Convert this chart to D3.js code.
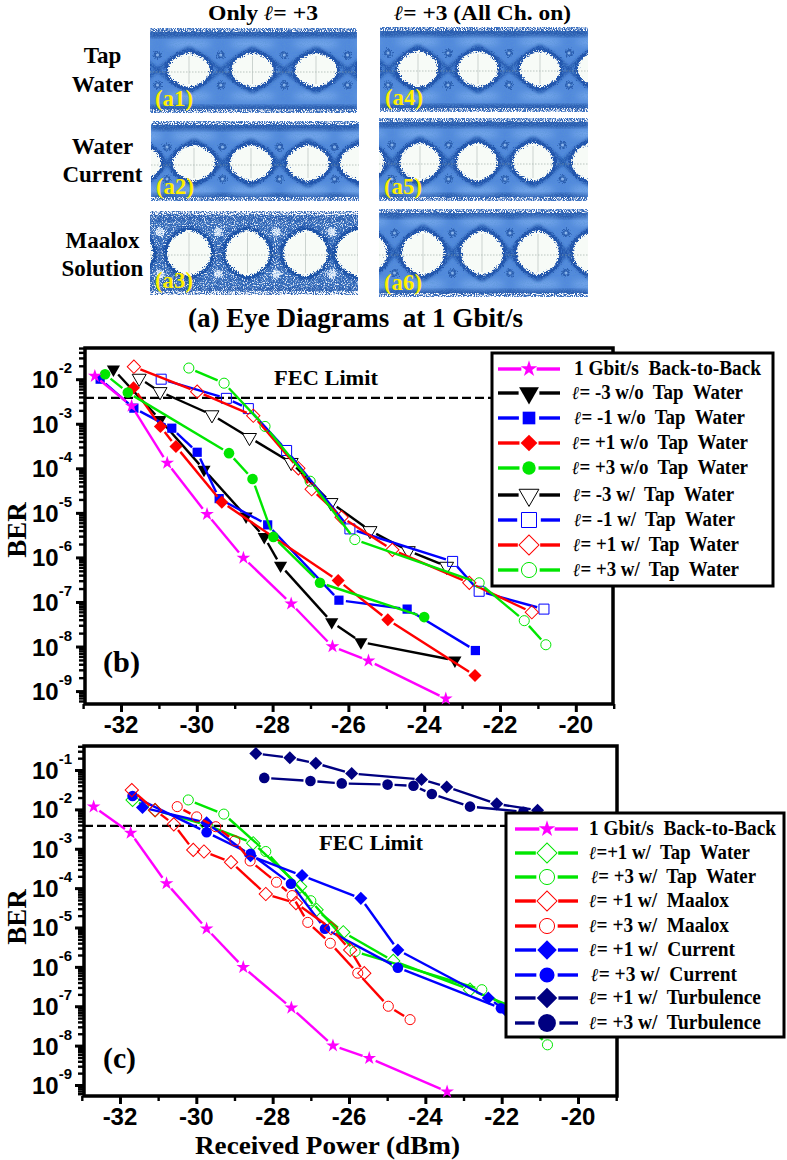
<!DOCTYPE html>
<html><head><meta charset="utf-8">
<script src="https://cdn.jsdelivr.net/npm/d3@7"></script>
<style>html,body{margin:0;background:#fff}svg{display:block}
text{font-family:"Liberation Serif",serif;font-weight:bold;fill:#000}
.sans{font-family:"Liberation Sans",sans-serif}</style></head><body>
<script>
// ---------- Data: received power (dBm) and log10(BER) ----------
const btbX=[-32.69,-31.72,-30.78,-29.73,-28.77,-27.51,-26.42,-25.47,-23.43];
const btbY=[-1.93,-2.60,-3.88,-5.03,-6.01,-7.04,-8.00,-8.32,-9.17];
// panel (b)
const m3noX=[-32.20,-30.97,-29.81,-28.70,-28.22,-27.79,-26.44,-25.67,-23.19];
const m3noY=[-1.78,-2.91,-4.03,-5.08,-5.54,-6.18,-7.45,-7.90,-8.31];
const m1noX=[-32.55,-31.66,-30.66,-29.99,-29.41,-28.13,-26.25,-24.45,-22.65];
const m1noY=[-2.00,-2.65,-3.10,-3.64,-4.68,-5.27,-6.96,-7.16,-8.09];
const p1noX=[-31.67,-30.96,-30.55,-29.34,-26.27,-24.96,-22.66];
const p1noY=[-2.19,-3.06,-3.51,-4.76,-6.52,-7.40,-8.65];
const p3noX=[-32.42,-31.82,-29.15,-28.53,-27.98,-26.75,-24.00];
const p3noY=[-1.89,-2.30,-3.66,-4.24,-5.54,-6.57,-7.34];
const m3tapX=[-31.52,-30.97,-29.60,-28.61,-27.51,-26.46,-25.43,-24.42,-23.41];
const m3tapY=[-1.98,-2.28,-2.80,-3.31,-3.87,-4.77,-5.40,-5.85,-6.20];
const m1tapX=[-30.94,-29.22,-28.64,-27.63,-25.96,-23.25,-22.55,-20.84];
const m1tapY=[-2.00,-2.43,-2.66,-3.60,-5.36,-6.09,-6.76,-7.16];
const p1tapX=[-31.66,-29.99,-28.51,-27.32,-26.97,-26.18,-24.84,-22.81,-21.16];
const p1tapY=[-1.72,-2.28,-2.82,-4.00,-4.47,-5.10,-5.83,-6.57,-7.23];
const p3tapX=[-30.21,-29.28,-28.20,-27.01,-25.83,-22.55,-21.36,-20.79];
const p3tapY=[-1.75,-2.09,-3.06,-4.29,-5.60,-6.57,-7.42,-7.96];
// panel (c)
const cP1tapX=[-31.67,-31.08,-29.73,-28.51,-27.28,-26.85,-26.15,-24.84,-22.83,-21.16];
const cP1tapY=[-1.76,-2.02,-2.40,-2.86,-3.96,-4.55,-5.12,-5.85,-6.58,-7.23];
const cP3tapX=[-30.21,-29.28,-28.18,-27.00,-25.84,-22.52,-21.36,-20.80];
const cP3tapY=[-1.76,-2.12,-3.07,-4.32,-5.61,-6.58,-7.42,-7.98];
const p1maaX=[-31.69,-31.08,-30.59,-30.08,-29.80,-29.09,-28.18,-27.39,-26.47,-25.97,-25.60];
const p1maaY=[-1.51,-2.02,-2.38,-3.03,-3.07,-3.34,-4.15,-4.38,-5.02,-5.57,-6.16];
const p3maaX=[-30.50,-29.99,-29.49,-28.99,-28.59,-27.90,-27.49,-27.08,-26.49,-25.77,-24.97,-24.40];
const p3maaY=[-1.93,-2.19,-2.44,-2.80,-3.31,-3.85,-4.19,-4.87,-5.40,-6.16,-7.00,-7.34];
const p1curX=[-31.41,-29.73,-28.58,-27.23,-25.69,-24.72,-22.35,-21.87];
const p1curY=[-1.95,-2.34,-3.18,-3.68,-4.26,-5.57,-6.79,-7.13];
const p3curX=[-31.67,-29.73,-28.58,-27.52,-26.63,-24.72,-22.02];
const p3curY=[-1.66,-2.58,-3.13,-3.89,-5.03,-6.02,-7.05];
const p1turX=[-28.44,-27.55,-26.87,-25.93,-24.10,-23.44,-22.13,-21.06];
const p1turY=[-0.58,-0.69,-0.83,-1.09,-1.24,-1.43,-1.86,-2.02];
const p3turX=[-28.22,-27.01,-26.19,-24.99,-24.31,-23.83,-22.83,-21.43];
const p3turY=[-1.20,-1.28,-1.34,-1.37,-1.40,-1.61,-1.93,-2.06];
const fecLog=-2.42;
const xMajor=[-32,-30,-28,-26,-24,-22,-20];
const xMinor=[-33,-31,-29,-27,-25,-23,-21,-19];
const decadesB=[-2,-3,-4,-5,-6,-7,-8,-9];
const decadesC=[-1,-2,-3,-4,-5,-6,-7,-8,-9];
const legendB=["1 Gbit/s  Back-to-Back","ℓ= -3 w/o  Tap  Water","ℓ= -1 w/o  Tap  Water","ℓ= +1 w/o  Tap  Water","ℓ= +3 w/o  Tap  Water","ℓ= -3 w/  Tap  Water","ℓ= -1 w/  Tap  Water","ℓ= +1 w/  Tap  Water","ℓ= +3 w/  Tap  Water"];
const legendC=["1 Gbit/s  Back-to-Back","ℓ=+1 w/  Tap  Water","ℓ= +3 w/  Tap  Water","ℓ= +1 w/  Maalox","ℓ= +3 w/  Maalox","ℓ= +1 w/  Current","ℓ= +3 w/  Current","ℓ= +1 w/  Turbulence","ℓ= +3 w/  Turbulence"];

const MAG="#ff00ff",BLK="#000",BLU="#0000ff",RED="#ff0000",GRN="#00e600",NAV="#000080";
const S=(name,xs,ys,color,shape,open,lk)=>({name,xs,ys,color,shape,open,lk});
const seriesB=[
 S(legendB[1],m3noX,m3noY,BLK,"tri",false,170),S(legendB[2],m1noX,m1noY,BLU,"sq",false,160),
 S(legendB[3],p1noX,p1noY,RED,"dia",false,140),S(legendB[4],p3noX,p3noY,GRN,"cir",false,140),
 S(legendB[5],m3tapX,m3tapY,BLK,"tri",true,170),S(legendB[6],m1tapX,m1tapY,BLU,"sq",true,225),
 S(legendB[7],p1tapX,p1tapY,RED,"dia",true,200),S(legendB[8],p3tapX,p3tapY,GRN,"cir",true,180),
 S(legendB[0],btbX,btbY,MAG,"star",false,85)];
const seriesC=[
 S(legendC[1],cP1tapX,cP1tapY,GRN,"dia",true,200),S(legendC[2],cP3tapX,cP3tapY,GRN,"cir",true,180),
 S(legendC[5],p1curX,p1curY,BLU,"dia",false,190),S(legendC[6],p3curX,p3curY,BLU,"cir",false,180),
 S(legendC[3],p1maaX,p1maaY,RED,"dia",true,200),S(legendC[4],p3maaX,p3maaY,RED,"cir",true,180),
 S(legendC[7],p1turX,p1turY,NAV,"dia",false,210),S(legendC[8],p3turX,p3turY,NAV,"cir",false,250),
 S(legendC[0],btbX,btbY,MAG,"star",false,85)];

// ---------- Helpers ----------
const svg=d3.select("body").append("svg").attr("width",787).attr("height",1160);
function label(x,y,str,size,width,anchor){
 const t=svg.append("text").attr("x",x).attr("y",y).attr("font-size",size).attr("text-anchor",anchor||"start").style("white-space","pre");
 str.split(/(ℓ)/).filter(s=>s).forEach(part=>{
  const ts=t.append("tspan").text(part);
  if(part==="ℓ")ts.style("font-family","'DejaVu Serif'").style("font-style","italic").attr("font-size",size*0.92);
 });
 if(width)t.attr("textLength",width).attr("lengthAdjust","spacingAndGlyphs");
 return t;
}
function symbolPath(shape,area){
 const type={tri:d3.symbolTriangle,sq:d3.symbolSquare,dia:d3.symbolSquare,cir:d3.symbolCircle,star:d3.symbolStar}[shape];
 return d3.symbol().type(type).size(area)();
}
const rot={tri:180,dia:45};
const plotArea={tri:[75,85],sq:[85,100],dia:[85,88],cir:[88,80],star:[58,58]};
function marker(g,shape,open,color,px,py,area){
 g.append("path").attr("d",symbolPath(shape,area||plotArea[shape][open?1:0]))
  .attr("transform",`translate(${px},${py}) rotate(${rot[shape]||0})`)
  .attr("fill",open?"#fff":color).attr("fill-opacity",open?0:1)
  .attr("stroke",open?color:"none").attr("stroke-width",open?1:0);
}
function chart(cfg){
 const x=d3.scaleLinear().domain([-33,-19]).range(cfg.xr);
 const y=d3.scaleLog().domain([Math.pow(10,cfg.yd[0]),Math.pow(10,cfg.yd[1])]).range(cfg.yr);
 const g=svg.append("g");
 const bottom=cfg.yr[0],left=cfg.frame[0];
 const ax=(axis)=>axis.tickFormat("").tickSizeOuter(0);
 const xa1=g.append("g").attr("transform",`translate(0,${bottom})`).call(ax(d3.axisBottom(x).tickValues(xMajor).tickSize(8)));
 const xa2=g.append("g").attr("transform",`translate(0,${bottom})`).call(ax(d3.axisBottom(x).tickValues(xMinor).tickSize(5)));
 const minor=[];cfg.decades.concat([cfg.decades[cfg.decades.length-1]-1]).forEach(d=>{for(let k=2;k<=9;k++){const v=k*Math.pow(10,d);if(v>y.domain()[0]&&v<y.domain()[1])minor.push(v);}});
 const ya1=g.append("g").attr("transform",`translate(${left},0)`).call(ax(d3.axisLeft(y).tickValues(cfg.decades.map(d=>Math.pow(10,d))).tickSize(9)));
 const ya2=g.append("g").attr("transform",`translate(${left},0)`).call(ax(d3.axisLeft(y).tickValues(minor).tickSize(6)));
 [xa1,xa2,ya1,ya2].forEach(a=>{a.select(".domain").remove();a.selectAll("line").attr("stroke","#000").attr("stroke-width",3);});
 [xa2,ya2].forEach(a=>a.selectAll("line").attr("stroke-width",2.4));
 g.append("rect").attr("x",left).attr("y",cfg.yr[1]).attr("width",cfg.frame[1]-left).attr("height",bottom-cfg.yr[1]).attr("fill","none").attr("stroke","#000").attr("stroke-width",3.5);
 g.append("line").attr("x1",left).attr("x2",cfg.fecEnd).attr("y1",y(Math.pow(10,fecLog))).attr("y2",y(Math.pow(10,fecLog))).attr("stroke","#000").attr("stroke-width",2.4).attr("stroke-dasharray","9 4");
 cfg.series.forEach(s=>{
  const pts=s.xs.map((v,i)=>[x(v),y(Math.pow(10,s.ys[i]))]);
  const gap=7;
  const sg=g.append("g");
  for(let i=0;i<pts.length-1;i++){
   const [a,b]=[pts[i],pts[i+1]];const d=Math.hypot(b[0]-a[0],b[1]-a[1]);
   if(d<=2*gap)continue;
   const ux=(b[0]-a[0])/d,uy=(b[1]-a[1])/d;
   sg.append("line").attr("x1",a[0]+ux*gap).attr("y1",a[1]+uy*gap).attr("x2",b[0]-ux*gap).attr("y2",b[1]-uy*gap)
    .attr("stroke",s.color).attr("stroke-width",2.4);
  }
  pts.forEach(p=>marker(sg,s.shape,s.open,s.color,p[0],p[1]));
 });
 xMajor.forEach(v=>svg.append("text").attr("class","sans").attr("x",x(v)).attr("y",bottom+cfg.xlabDy).attr("font-size",24).attr("text-anchor","middle").text(v));
 cfg.decades.forEach(d=>{
  const t=svg.append("text").attr("class","sans").attr("x",72).attr("y",y(Math.pow(10,d))+9).attr("font-size",24).attr("text-anchor","end");
  t.append("tspan").text("10");
  t.append("tspan").attr("font-size",15).attr("dy",-15).text(d);
 });
 svg.append("text").attr("transform",`translate(${cfg.berX},${cfg.berY}) rotate(-90)`).attr("font-size",27).attr("text-anchor","middle").text("BER");
 const L=cfg.legend;
 g.append("rect").attr("x",L.x0).attr("y",L.y0).attr("width",L.x1-L.x0).attr("height",L.y1-L.y0).attr("fill","#fff").attr("stroke","#000").attr("stroke-width",3);
 cfg.legendOrder.forEach((name,i)=>{
  const s=cfg.series.find(q=>q.name===name),yy=L.rows[i];
  const gp=Math.sqrt(s.lk)*0.72+1;
  g.append("line").attr("x1",L.lx0).attr("x2",L.mx-gp).attr("y1",yy).attr("y2",yy).attr("stroke",s.color).attr("stroke-width",3.4);
  g.append("line").attr("x1",L.mx+gp).attr("x2",L.lx1).attr("y1",yy).attr("y2",yy).attr("stroke",s.color).attr("stroke-width",3.4);
  marker(g,s.shape,s.open,s.color,L.mx,yy,s.lk);
  label(L.tx[i][0],yy+6,name,20,L.tx[i][1]-L.tx[i][0]);
 });
}

// ---------- Eye-diagram panels (a) ----------
const panels=[
 {id:"(a1)",x:150,y:28,w:207,h:85,eyes:[[126,70],[189,70],[252.5,70],[316,70],[379,70]],rx:21,ry:17},
 {id:"(a2)",x:151,y:121,w:208,h:80,eyes:[[140,163],[194,163],[251,163],[308,163],[361,163]],rx:21,ry:18},
 {id:"(a3)",x:150,y:211,w:208,h:84,eyes:[[131,253],[189,253],[247.5,253],[305.5,253],[358,253]],rx:22,ry:23,noisy:true},
 {id:"(a4)",x:380,y:27,w:208,h:85,eyes:[[358,69],[418,69],[478,69],[540,69],[598,69]],rx:20,ry:18},
 {id:"(a5)",x:379,y:118,w:209,h:83,eyes:[[364,162],[420,162],[477,162],[533,162],[592,162]],rx:20,ry:19},
 {id:"(a6)",x:379,y:209,w:209,h:88,eyes:[[366,253],[423,253],[482,253],[538,253],[594,253]],rx:21,ry:22}];
const rowLabels=[["Tap",102.5,63],["Water",102.5,92],["Water",102.5,154],["Current",102.5,182],["Maalox",102.5,248],["Solution",102.5,276]];
const defs=svg.append("defs");
const rough=defs.append("filter").attr("id","rough").attr("x","-15%").attr("y","-15%").attr("width","130%").attr("height","130%");
rough.append("feTurbulence").attr("type","fractalNoise").attr("baseFrequency",0.8).attr("numOctaves",2).attr("seed",4).attr("result","n");
rough.append("feDisplacementMap").attr("in","SourceGraphic").attr("in2","n").attr("scale",7).attr("xChannelSelector","R").attr("yChannelSelector","G");
const soft=defs.append("filter").attr("id","soft");soft.append("feGaussianBlur").attr("stdDeviation",1.4);
const soft2=defs.append("filter").attr("id","soft2").attr("x","-30%").attr("y","-60%").attr("width","160%").attr("height","220%");soft2.append("feGaussianBlur").attr("stdDeviation",3.5);
function speckle(id,r,g,b,gain,cut,seed){
 const f=defs.append("filter").attr("id",id).attr("x",0).attr("y",0).attr("width","100%").attr("height","100%");
 f.append("feTurbulence").attr("type","fractalNoise").attr("baseFrequency",0.9).attr("numOctaves",1).attr("seed",seed);
 f.append("feColorMatrix").attr("values",`0 0 0 0 ${r}  0 0 0 0 ${g}  0 0 0 0 ${b}  ${gain} 0 0 0 ${cut}`);
}
speckle("speckW",1,1,1,6,-3.1,9);
speckle("speckWrail",1,1,1,7,-3.2,3);
speckle("speckD",0.1,0.3,0.65,6,-2.8,21);
const rect=(g,x,y,w,h,fill)=>g.append("rect").attr("x",x).attr("y",y).attr("width",w).attr("height",h).attr("fill",fill||"#000");
panels.forEach((p,i)=>{
 defs.append("clipPath").attr("id","c"+i).append("rect").attr("x",p.x).attr("y",p.y).attr("width",p.w).attr("height",p.h);
 const g=svg.append("g").attr("clip-path",`url(#c${i})`);
 rect(g,p.x,p.y,p.w,p.h,p.noisy?"#2f64b6":"#5189dc");
 const eyeD=(c,grow)=>{
  const pts=d3.range(0,360,8).map(a=>{const t=a*Math.PI/180,ct=Math.cos(t),st=Math.sin(t);
   return [c[0]+(p.rx+grow)*Math.sign(ct)*Math.pow(Math.abs(ct),1.45),c[1]+(p.ry+grow)*Math.sign(st)*Math.pow(Math.abs(st),0.9)];});
  return d3.line()(pts)+"Z";};
 // outer rails
 rect(g,p.x,p.y,p.w,10,"#2a5db0").attr("filter","url(#soft)");
 rect(g,p.x,p.y+p.h-8,p.w,8,"#2a5db0").attr("filter","url(#soft)");
 // light haze arcs above/below the eyes
 if(!p.noisy)p.eyes.forEach(c=>{
  g.append("ellipse").attr("cx",c[0]).attr("cy",c[1]-p.ry-9).attr("rx",p.rx+2).attr("ry",3.5).attr("fill","#80b0f0").attr("filter","url(#soft2)");
  g.append("ellipse").attr("cx",c[0]).attr("cy",c[1]+p.ry+9).attr("rx",p.rx+2).attr("ry",3.5).attr("fill","#80b0f0").attr("filter","url(#soft2)");
 });
 // crossing traces between neighbouring eyes
 const trace=d3.line().curve(d3.curveBasis);
 p.eyes.slice(0,-1).forEach((c,k)=>{
  const n=p.eyes[k+1],mx=(c[0]+n[0])/2;
  [[-1,1],[1,-1]].forEach(([s0,s1])=>{
   g.append("path").attr("d",trace([[c[0],c[1]+s0*(p.ry+5)],[c[0]+p.rx*0.7,c[1]+s0*(p.ry*0.8)],[mx,c[1]],[n[0]-p.rx*0.7,c[1]+s1*(p.ry*0.8)],[n[0],c[1]+s1*(p.ry+5)]]))
    .attr("fill","none").attr("stroke","#2357ad").attr("stroke-width",p.noisy?5:4).attr("filter","url(#soft)");
  });
 });
 // small pockets at the trace crossings
 p.eyes.slice(0,-1).forEach((c,k)=>{
  const mx=(c[0]+p.eyes[k+1][0])/2;
  [-1,1].forEach(sgn=>{
   const yy=c[1]+sgn*(p.ry-2);
   g.append("circle").attr("cx",mx).attr("cy",yy).attr("r",p.noisy?4.5:4).attr("fill",p.noisy?"#dfeaf8":"#2a5db0").attr("filter","url(#rough)");
   if(!p.noisy)g.append("circle").attr("cx",mx).attr("cy",yy).attr("r",1.5).attr("fill","#8fb8ee");
  });
 });
 rect(g,p.x,p.y,p.w,p.h).attr("filter","url(#speckD)").attr("opacity",p.noisy?.55:.4);
 if(p.noisy)rect(g,p.x,p.y,p.w,p.h).attr("filter","url(#speckW)").attr("opacity",.85);
 // speckled outer edge
 rect(g,p.x,p.y,p.w,4).attr("filter","url(#speckWrail)");
 rect(g,p.x,p.y+p.h-4,p.w,4).attr("filter","url(#speckWrail)");
 // dark noisy rim around the eyes, then the opening itself
 p.eyes.forEach(c=>g.append("path").attr("d",eyeD(c,3.5)).attr("fill",p.noisy?"#1f53a8":"#2357ad").attr("filter","url(#rough)"));
 p.eyes.forEach(c=>g.append("path").attr("d",eyeD(c,0)).attr("fill","#f7fbf7").attr("filter","url(#rough)"));
 // scope graticule
 const cy=p.eyes[0][1];
 g.append("line").attr("x1",p.x).attr("x2",p.x+p.w).attr("y1",cy+2).attr("y2",cy+2).attr("stroke","#8b9a94").attr("stroke-width",.8).attr("stroke-dasharray","1.5 1.5").attr("stroke-opacity",.7);
 p.eyes.forEach(c=>g.append("line").attr("x1",c[0]).attr("x2",c[0]).attr("y1",c[1]-p.ry+3).attr("y2",c[1]+p.ry-3).attr("stroke","#b7c2bd").attr("stroke-width",.7));
 svg.append("text").attr("x",p.x+5).attr("y",p.y+p.h-7).attr("font-size",24).attr("textLength",38).attr("lengthAdjust","spacingAndGlyphs").style("fill","#ffee00").text(p.id);
});
label(208,20,"Only ℓ= +3",22,110);
label(394,20,"ℓ= +3 (All Ch. on)",22,177);
rowLabels.forEach(r=>label(r[1],r[2],r[0],23,null,"middle"));
label(188,327,"(a) Eye Diagrams  at 1 Gbit/s",27,335);

// ---------- Panels (b) and (c) ----------
chart({xr:[83.1,613.7],yd:[-9.29,-1.30],yr:[704,348],frame:[85,613],decades:decadesB,fecEnd:492,xlabDy:29,series:seriesB,berX:26,berY:530,
 legendOrder:legendB,legend:{x0:492,x1:773,y0:353,y1:586,rows:[369,393,418,443,468,495,520,545,570],lx0:498,lx1:560,mx:529,
 tx:[[574,761],[572,743],[574,745],[572,748],[572,748],[573,734],[574,735],[573,739],[573,739]]}});
chart({xr:[81.8,616.2],yd:[-9.28,-0.39],yr:[1096,746],frame:[84,617],decades:decadesC,fecEnd:506,xlabDy:29,series:seriesC,berX:26,berY:917,
 legendOrder:legendC,legend:{x0:506,x1:784,y0:813,y1:1037,rows:[829,853,877,901,926,950,975,998,1023],lx0:515,lx1:578,mx:547,
 tx:[[589,776],[589,750],[591,756],[589,729],[589,729],[589,735],[591,737],[589,761],[589,761]]}});
label(274,385,"FEC Limit",22,104);
label(319,850,"FEC Limit",22,104);
label(103,672,"(b)",30,37);
label(103,1068,"(c)",30,33);
label(195,1154,"Received Power (dBm)",25,265);
</script></body></html>
